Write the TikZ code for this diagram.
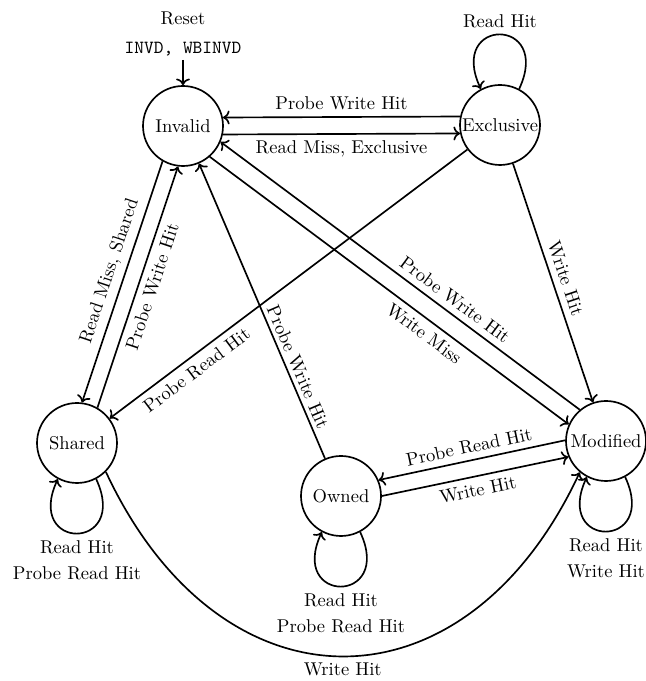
\documentclass[tikz,border=0pt]{standalone}
\usetikzlibrary{arrows.meta}
\tikzset{
  state/.style={draw, circle, line width=0.9pt, minimum size=43.2pt, inner sep=0pt},
  edge/.style={->, line width=0.9pt},
}
\begin{document}
\begin{tikzpicture}[x=0.54pt, y=0.54pt]
\useasboundingbox (0,0) rectangle (646,681);
% states
\node[state] (I) at (183,555) {Invalid};
\node[state] (E) at (500,556) {Exclusive};
\node[state] (S) at (77,238) {Shared};
\node[state] (O) at (341,185) {Owned};
\node[state] (M) at (606,240) {Modified};
% reset
\node[align=center, anchor=south, inner sep=2pt] (reset) at (183,621) {Reset\\[3.5pt]\texttt{INVD, WBINVD}};
\draw[edge] (reset) -- (I);
% Invalid <-> Exclusive
\draw[edge] (E.168) -- node[midway, above] {Probe Write Hit} (I.12);
\draw[edge] (I.-12) -- node[midway, below] {Read Miss, Exclusive} (E.192);
% Invalid <-> Shared
\draw[edge] (I.240) -- node[pos=0.475, sloped, above] {Read Miss, Shared} (S.83);
\draw[edge] (S.60) -- node[pos=0.52, sloped, below] {Probe Write Hit} (I.263);
% Exclusive -> Shared
\draw[edge] (E) -- node[pos=0.78, sloped, below] {Probe Read Hit} (S);
% Invalid <-> Modified
\draw[edge] (M.130.3) -- node[pos=0.37, sloped, above] {Probe Write Hit} (I.-23.7);
\draw[edge] (I.-49.7) -- node[pos=0.62, sloped, below] {Write Miss} (M.156.3);
% Owned -> Invalid
\draw[edge] (O) -- node[pos=0.295, sloped, above, inner sep=2pt] {Probe Write Hit} (I);
% Exclusive -> Modified
\draw[edge] (E) -- node[midway, sloped, above] {Write Hit} (M);
% Owned <-> Modified
\draw[edge] (M.179.7) -- node[midway, sloped, above] {Probe Read Hit} (O.23.7);
\draw[edge] (O.-0.3) -- node[midway, sloped, below] {Write Hit} (M.203.7);
% Shared -> Modified
\draw[edge] (S.-45) .. controls +(-65:271) and +(-115:271) .. node[midway, below] {Write Hit} (M.230);
% loops
\draw[edge] (E.62) .. controls +(65:80) and +(115:80) .. node[midway, above] {Read Hit} (E.118);
\draw[edge] (S.-62) .. controls +(-65:80) and +(-115:80) .. node[midway, below, align=center] {Read Hit\\[2pt]Probe Read Hit} (S.-118);
\draw[edge] (O.-62) .. controls +(-65:80) and +(-115:80) .. node[midway, below, align=center] {Read Hit\\[2pt]Probe Read Hit} (O.-118);
\draw[edge] (M.-62) .. controls +(-65:80) and +(-115:80) .. node[midway, below, align=center] {Read Hit\\[2pt]Write Hit} (M.-118);
\end{tikzpicture}
\end{document}
